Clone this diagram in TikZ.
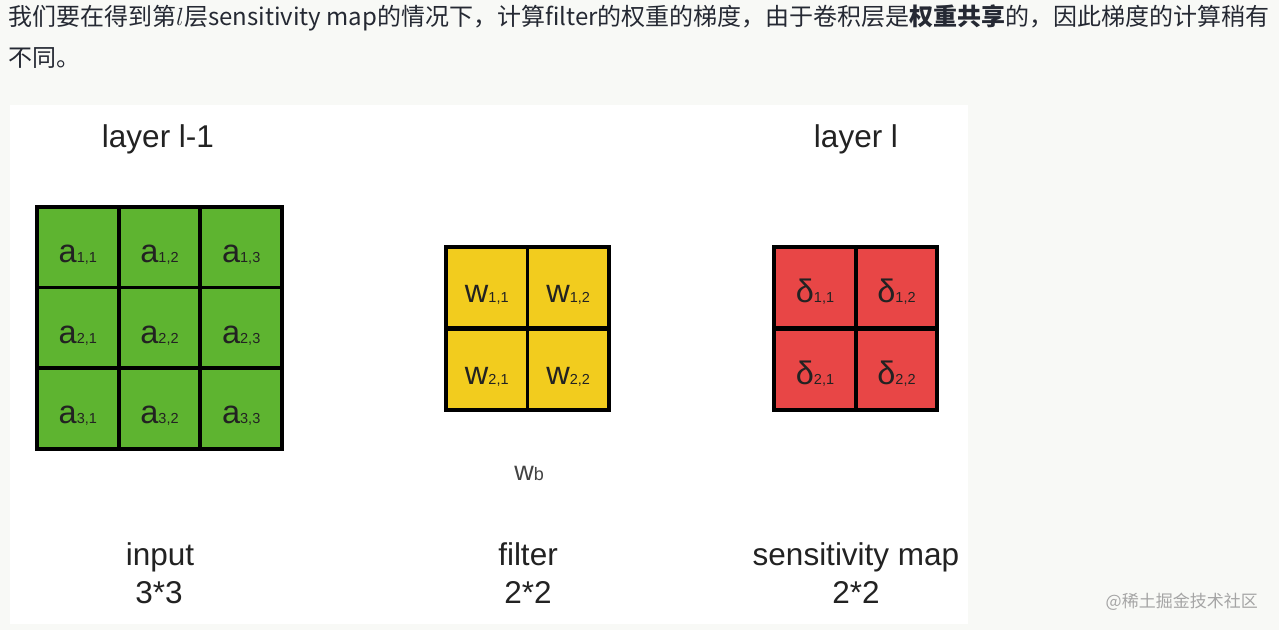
\documentclass[tikz,border=0pt]{standalone}
\usepackage{fontspec}
\setmainfont{Liberation Sans}
\newfontfamily\cjk{Noto Sans CJK SC}
\newfontfamily\diag{Liberation Sans}
\definecolor{pagebg}{RGB}{248,249,246}
\definecolor{toptext}{RGB}{37,41,51}
\definecolor{cgreen}{RGB}{94,180,48}
\definecolor{cyellow}{RGB}{242,204,30}
\definecolor{cred}{RGB}{232,70,70}
\definecolor{dtext}{RGB}{34,34,34}
\definecolor{wmark}{RGB}{165,165,165}
\newcommand\cl[2]{#1{\fontsize{14.5}{15}\selectfont #2}}
\begin{document}
\begin{tikzpicture}[x=1pt,y=-1pt,
  cellbox/.style={draw=black, line width=3.8pt, minimum width=81.5pt, minimum height=81pt,
    inner sep=0pt, text height=30pt, text depth=0pt, text=dtext,
    font=\diag\fontsize{32.5}{33}\selectfont},
  gcell/.style={cellbox, fill=cgreen},
  ycell/.style={cellbox, fill=cyellow},
  rcell/.style={cellbox, fill=cred},
  title/.style={anchor=base, inner sep=0pt, text=dtext, font=\diag\fontsize{31.5}{32}\selectfont},
  topline/.style={anchor=base west, inner sep=0pt, text=toptext, font=\cjk\fontsize{24}{28}\selectfont}
]
\fill[pagebg] (0,0) rectangle (1279,630);
\useasboundingbox (0,0) rectangle (1279,630);
\fill[white] (10,105) rectangle (968,624);

\node[topline] (line1) at (8,25) {我们要在得到第$l$层sensitivity map的情况下，计算filter的权重的梯度，由于卷积层是\textbf{权重共享}的，因此梯度的计算稍有};
\node[topline] (line2) at (8,66) {不同。};

% input grid
\foreach \r/\y in {1/247.3,2/328,3/408.7}{
  \foreach \c/\x in {1/77.8,2/159.5,3/241.2}{
    \node[gcell] (a\r\c) at (\x,\y) {\cl{a}{\r,\c}};
  }
}
% filter grid
\foreach \r/\y in {1/287.8,2/369.2}{
  \foreach \c/\x in {1/486.8,2/568.2}{
    \node[ycell] (w\r\c) at (\x,\y) {\cl{w}{\r,\c}};
  }
}
% sensitivity grid
\foreach \r/\y in {1/287.8,2/369.2}{
  \foreach \c/\x in {1/815,2/896.5}{
    \node[rcell] (d\r\c) at (\x,\y) {\cl{δ}{\r,\c}};
  }
}

\node[title] (t1) at (158,147) {layer l-1};
\node[title] (t2) at (856,147) {layer l};
\node[title] (b1) at (160,565) {input};
\node[title] (b1n) at (159,603) {3*3};
\node[title] (b2) at (528,565) {filter};
\node[title] (b2n) at (528,603) {2*2};
\node[title] (b3) at (856,565) {sensitivity map};
\node[title] (b3n) at (856,603) {2*2};
\node[anchor=base, inner sep=0pt, text=dtext!85, font=\diag\fontsize{27}{27}\selectfont] (wb) at (529,480) {w{\fontsize{18}{18}\selectfont b}};

\node[anchor=base east, inner sep=0pt, text=wmark, font=\cjk\fontsize{17}{18}\selectfont] (wm) at (1258,607) {@稀土掘金技术社区};
\end{tikzpicture}
\end{document}
